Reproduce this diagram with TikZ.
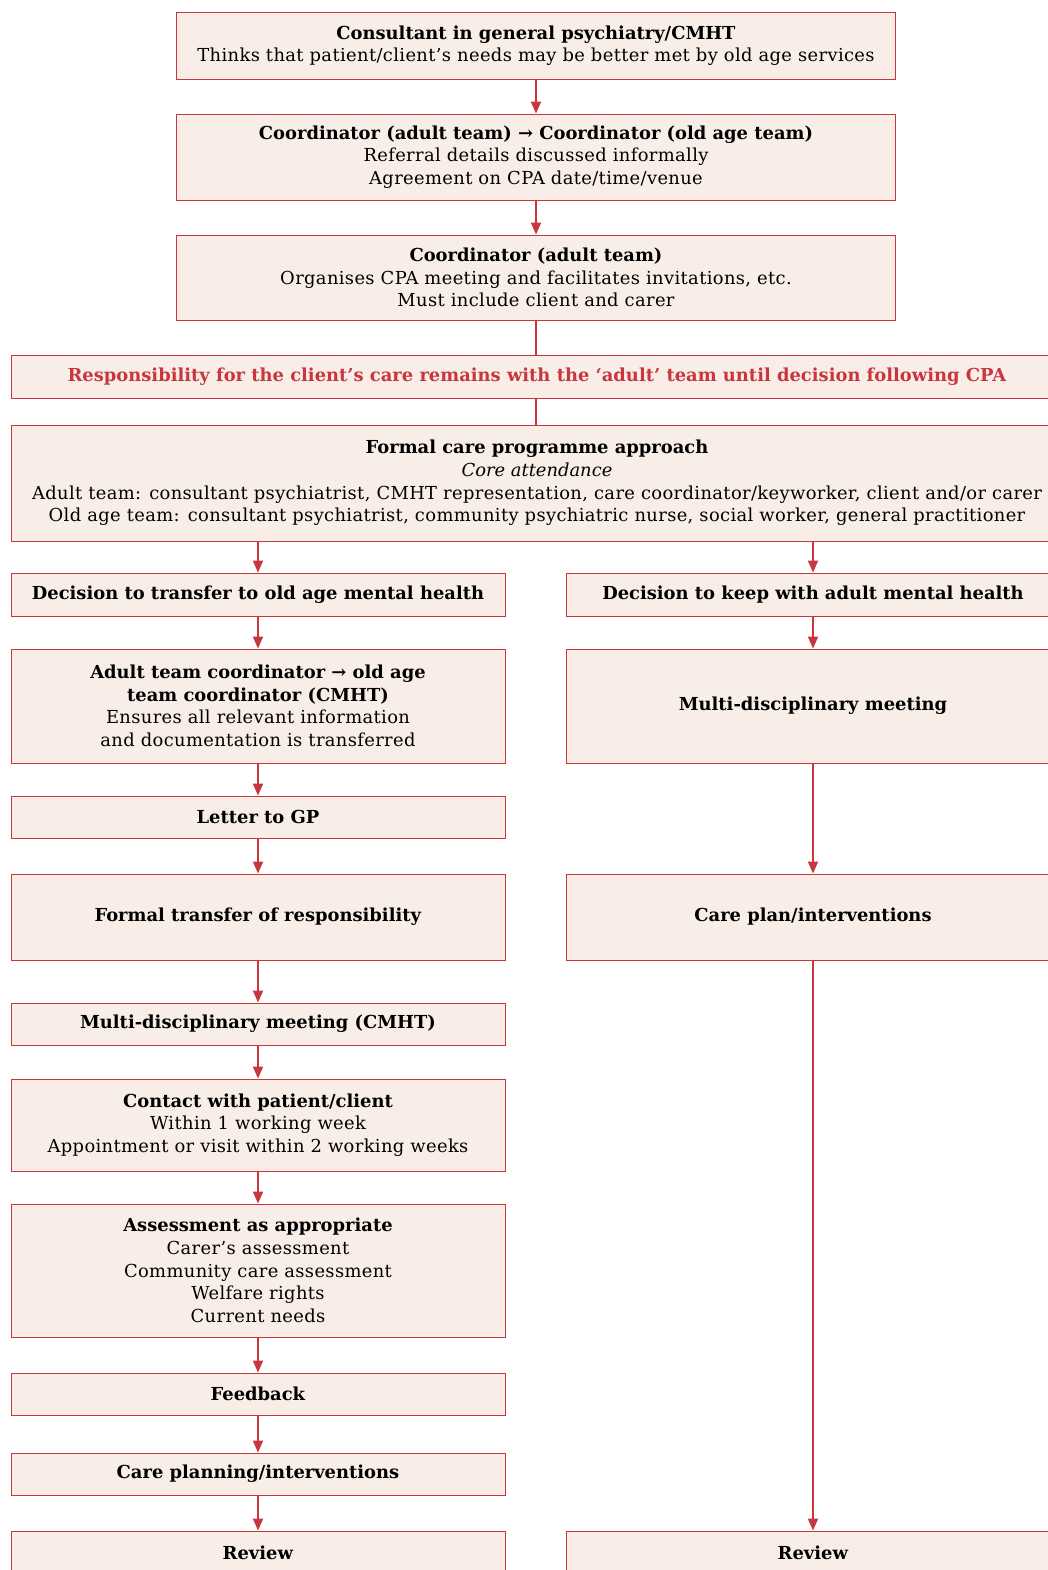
\documentclass[tikz,border=0pt]{standalone}
\usepackage{fontspec}
\setmainfont{DejaVu Serif}[UprightFeatures={LetterSpace=2}]
\usetikzlibrary{arrows.meta}
\definecolor{framered}{HTML}{C8363E}
\definecolor{boxfill}{HTML}{F9EDE8}
\tikzset{
    box/.style={draw=framered, line width=0.9pt, fill=boxfill, align=center,
        font=\fontsize{17.9}{22.6}\selectfont, inner sep=0pt},
    flow/.style={draw=framered, line width=1.8pt, -{Triangle[length=12pt,width=10pt]}},
    link/.style={draw=framered, line width=1.8pt}
}
\begin{document}
\begin{tikzpicture}[x=1pt,y=-1pt]
    \useasboundingbox (0,0) rectangle (1047,1570);
    % top column
    \node[box, minimum width=719, minimum height=67] (consult) at (536,45.5)
        {\textbf{Consultant in general psychiatry/CMHT}\\Thinks that patient/client’s needs may be better met by old age services};
    \node[box, minimum width=719, minimum height=86] (coord) at (536,157)
        {\textbf{Coordinator (adult team) → Coordinator (old age team)}\\Referral details discussed informally\\Agreement on CPA date/time/venue};
    \node[box, minimum width=719, minimum height=85] (organise) at (536,277.5)
        {\textbf{Coordinator (adult team)}\\Organises CPA meeting and facilitates invitations, etc.\\Must include client and carer};
    \node[box, minimum width=1052, minimum height=43, text=framered] (resp) at (537,376.5)
        {\textbf{Responsibility for the client’s care remains with the ‘adult’ team until decision following CPA}};
    \node[box, minimum width=1052, minimum height=116] (cpa) at (537,483)
        {\textbf{Formal care programme approach}\\\textit{Core attendance}\\Adult team: consultant psychiatrist, CMHT representation, care coordinator/keyworker, client and/or carer\\Old age team: consultant psychiatrist, community psychiatric nurse, social worker, general practitioner};
    % left column
    \node[box, minimum width=494, minimum height=43] (transfer) at (258,594.5)
        {\textbf{Decision to transfer to old age mental health}};
    \node[box, minimum width=494, minimum height=114] (handover) at (258,706)
        {\textbf{Adult team coordinator → old age}\\\textbf{team coordinator (CMHT)}\\Ensures all relevant information\\and documentation is transferred};
    \node[box, minimum width=494, minimum height=42] (letter) at (258,817)
        {\textbf{Letter to GP}};
    \node[box, minimum width=494, minimum height=86] (formal) at (258,917)
        {\textbf{Formal transfer of responsibility}};
    \node[box, minimum width=494, minimum height=42] (mdtl) at (258,1024)
        {\textbf{Multi-disciplinary meeting (CMHT)}};
    \node[box, minimum width=494, minimum height=92] (contact) at (258,1125)
        {\textbf{Contact with patient/client}\\Within 1 working week\\Appointment or visit within 2 working weeks};
    \node[box, minimum width=494, minimum height=133] (assess) at (258,1270.5)
        {\textbf{Assessment as appropriate}\\Carer’s assessment\\Community care assessment\\Welfare rights\\Current needs};
    \node[box, minimum width=494, minimum height=42] (feedback) at (258,1394)
        {\textbf{Feedback}};
    \node[box, minimum width=494, minimum height=42] (planl) at (258,1474)
        {\textbf{Care planning/interventions}};
    \node[box, minimum width=494, minimum height=43] (reviewl) at (258,1552.5)
        {\textbf{Review}};
    % right column
    \node[box, minimum width=494, minimum height=43] (keep) at (813,594.5)
        {\textbf{Decision to keep with adult mental health}};
    \node[box, minimum width=494, minimum height=114] (mdtr) at (813,706)
        {\textbf{Multi-disciplinary meeting}};
    \node[box, minimum width=494, minimum height=86] (planr) at (813,917)
        {\textbf{Care plan/interventions}};
    \node[box, minimum width=494, minimum height=43] (reviewr) at (813,1552.5)
        {\textbf{Review}};
    % connectors
    \draw[flow] (consult) -- (coord);
    \draw[flow] (coord) -- (organise);
    \draw[link] (organise.south) -- (resp.north -| organise.south);
    \draw[link] (resp.south -| organise.south) -- (cpa.north -| organise.south);
    \draw[flow] (cpa.south -| transfer.north) -- (transfer.north);
    \draw[flow] (cpa.south -| keep.north) -- (keep.north);
    \draw[flow] (transfer) -- (handover);
    \draw[flow] (handover) -- (letter);
    \draw[flow] (letter) -- (formal);
    \draw[flow] (formal) -- (mdtl);
    \draw[flow] (mdtl) -- (contact);
    \draw[flow] (contact) -- (assess);
    \draw[flow] (assess) -- (feedback);
    \draw[flow] (feedback) -- (planl);
    \draw[flow] (planl) -- (reviewl);
    \draw[flow] (keep) -- (mdtr);
    \draw[flow] (mdtr) -- (planr);
    \draw[flow] (planr) -- (reviewr);
\end{tikzpicture}
\end{document}
